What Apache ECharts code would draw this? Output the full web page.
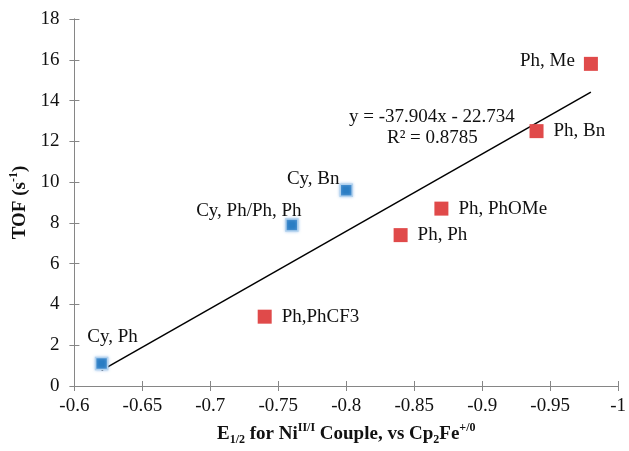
<!DOCTYPE html>
<html>
<head>
<meta charset="utf-8">
<script src="https://cdn.jsdelivr.net/npm/echarts@6/dist/echarts.min.js"></script>
<style>html,body{margin:0;padding:0;background:#fff}#c{width:629px;height:451px}</style>
</head>
<body>
<div id="c"></div>
<script>
// ---- data ----
const pointNames = ['Cy, Ph', 'Cy, Ph/Ph, Ph', 'Cy, Bn', 'Ph,PhCF3', 'Ph, Ph', 'Ph, PhOMe', 'Ph, Bn', 'Ph, Me'];
const e12Values = [-0.62, -0.76, -0.80, -0.74, -0.84, -0.87, -0.94, -0.98];
const tofValues = [1.1, 7.9, 9.6, 3.4, 7.4, 8.7, 12.5, 15.8];
const pointGroups = ['Cy', 'Cy', 'Cy', 'Ph', 'Ph', 'Ph', 'Ph', 'Ph'];
const equationLines = ['y = -37.904x - 22.734', 'R\u00b2 = 0.8785'];
const xRange = [-1, -0.6];
const yRange = [0, 18];

// ---- styles ----
const FONT = '"Liberation Serif", "Times New Roman", serif';
const labelStyle = {
  'Cy, Ph': { position: 'inside', offset: [11, -27] },
  'Cy, Ph/Ph, Ph': { position: 'inside', offset: [-43, -14] },
  'Cy, Bn': { position: 'left', distance: 0, offset: [0, -11] },
  'Ph,PhCF3': { position: 'right', distance: 10 },
  'Ph, Ph': { position: 'right', distance: 10 },
  'Ph, PhOMe': { position: 'right', distance: 10 },
  'Ph, Bn': { position: 'right', distance: 10 },
  'Ph, Me': { position: 'left', distance: 9, offset: [0, -3] }
};

function items(group) {
  const out = [];
  pointNames.forEach((n, i) => {
    if (pointGroups[i] !== group) return;
    out.push({
      name: n,
      value: [e12Values[i], tofValues[i]],
      label: Object.assign({ show: true, formatter: '{b}', color: '#111', fontFamily: FONT, fontSize: 19 }, labelStyle[n])
    });
  });
  return out;
}

// least-squares trend line from the data
const n = e12Values.length;
const mx = e12Values.reduce((a, b) => a + b, 0) / n;
const my = tofValues.reduce((a, b) => a + b, 0) / n;
let sxy = 0, sxx = 0;
for (let i = 0; i < n; i++) { sxy += (e12Values[i] - mx) * (tofValues[i] - my); sxx += (e12Values[i] - mx) ** 2; }
const slope = sxy / sxx, icpt = my - slope * mx;
const xLo = Math.max(...e12Values), xHi = Math.min(...e12Values);
const trend = [[xLo, slope * xLo + icpt], [xHi, slope * xHi + icpt]];

const axisCol = '#868686';
const fmtX = v => String(parseFloat(v.toFixed(2)));
const baseX = { type: 'value', min: xRange[0], max: xRange[1], interval: 0.05, inverse: true, position: 'bottom', splitLine: { show: false },
  axisLine: { lineStyle: { color: axisCol, width: 1 } } };
const baseY = { type: 'value', min: yRange[0], max: yRange[1], interval: 2, position: 'left', splitLine: { show: false },
  axisLine: { lineStyle: { color: axisCol, width: 1 } } };

const chart = echarts.init(document.getElementById('c'), null, { renderer: 'canvas' });
chart.setOption({
  animation: false,
  backgroundColor: '#fff',
  grid: { left: 71, right: 5, top: 19, bottom: 60, containLabel: false },
  xAxis: [
    Object.assign({}, baseX, {
      axisTick: { show: true, length: 5, lineStyle: { color: axisCol } },
      axisLabel: { formatter: fmtX, fontFamily: FONT, fontSize: 19, color: '#111', margin: 11 },
      name: '{b|E}{sub|1/2}{b| for Ni}{sup|II/I}{b| Couple, vs Cp}{sub|2}{b|Fe}{sup|+/0}',
      nameLocation: 'middle', nameGap: 36,
      nameTextStyle: { fontFamily: FONT, color: '#111', rich: {
        b: { fontFamily: FONT, fontSize: 19, fontWeight: 'bold', color: '#111', lineHeight: 24, verticalAlign: 'middle' },
        sub: { fontFamily: FONT, fontSize: 12, fontWeight: 'bold', color: '#111', lineHeight: 12, verticalAlign: 'bottom' },
        sup: { fontFamily: FONT, fontSize: 12, fontWeight: 'bold', color: '#111', lineHeight: 12, verticalAlign: 'top' }
      } }
    }),
    Object.assign({}, baseX, { axisTick: { show: true, inside: true, length: 5, lineStyle: { color: axisCol } }, axisLabel: { show: false } })
  ],
  yAxis: [
    Object.assign({}, baseY, {
      axisTick: { show: true, length: 5, lineStyle: { color: axisCol } },
      axisLabel: { fontFamily: FONT, fontSize: 19, color: '#111', margin: 15 },
      name: '{b|TOF (s}{sup|-1}{b|)}',
      nameLocation: 'middle', nameGap: 42,
      nameTextStyle: { fontFamily: FONT, color: '#111', rich: {
        b: { fontFamily: FONT, fontSize: 19, fontWeight: 'bold', color: '#111', lineHeight: 24, verticalAlign: 'middle' },
        sup: { fontFamily: FONT, fontSize: 12, fontWeight: 'bold', color: '#111', lineHeight: 12, verticalAlign: 'top' }
      } }
    }),
    Object.assign({}, baseY, { axisTick: { show: true, inside: true, length: 5, lineStyle: { color: axisCol } }, axisLabel: { show: false } })
  ],
  series: [
    { type: 'line', data: trend, symbol: 'none', lineStyle: { color: '#000', width: 1.5 }, z: 2, silent: true },
    { type: 'scatter', data: items('Cy'), symbol: 'rect', symbolSize: 12,
      itemStyle: { color: '#2a7dc4', borderColor: '#b3d2ee', borderWidth: 1.5, shadowColor: 'rgba(140,185,232,0.8)', shadowBlur: 3, opacity: 1 }, z: 3 },
    { type: 'scatter', data: items('Ph'), symbol: 'rect', symbolSize: 14,
      itemStyle: { color: '#e04a4a', opacity: 1 }, z: 3 }
  ],
  graphic: [
    { type: 'text', left: 349, top: 108, style: { text: equationLines[0], font: '19px ' + FONT, fill: '#111' } },
    { type: 'text', left: 387, top: 129, style: { text: equationLines[1], font: '19px ' + FONT, fill: '#111' } }
  ]
});
</script>
</body>
</html>
